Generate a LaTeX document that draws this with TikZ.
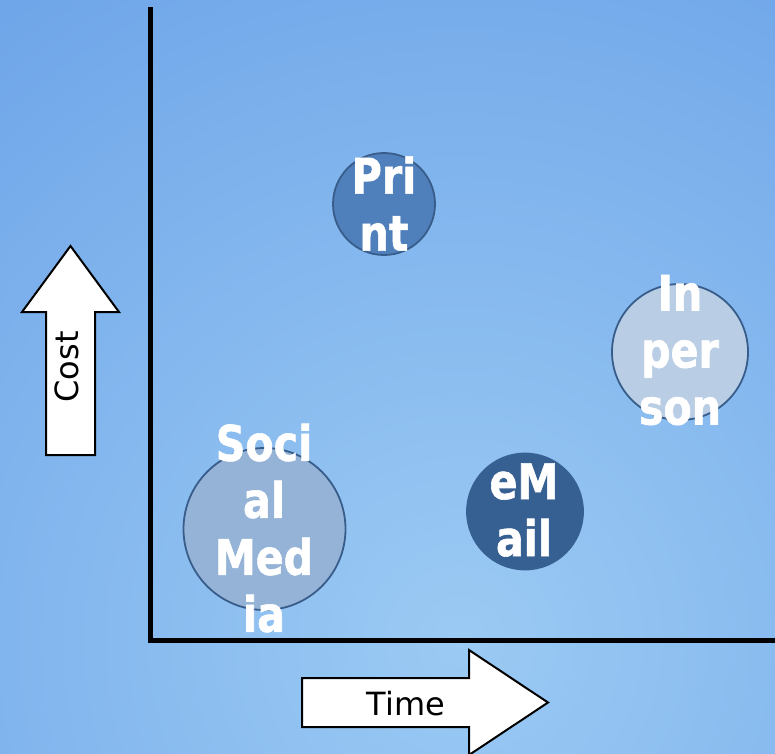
\documentclass[tikz,border=0pt]{standalone}
\usepackage{fontspec}
\setmainfont{DejaVu Sans}
\newfontfamily\bubblefont[FakeStretch=0.84, FakeBold=1.2]{DejaVu Sans}

\definecolor{bgin}{HTML}{9BCAF3}
\definecolor{bgout}{HTML}{6AA2E8}
\definecolor{bubbleedge}{HTML}{385D8A}
\definecolor{printfill}{HTML}{4F80BC}
\definecolor{mailfill}{HTML}{376092}
\definecolor{personfill}{HTML}{B9CDE5}
\definecolor{socialfill}{HTML}{95B3D7}

\begin{document}
\begin{tikzpicture}[x=1pt, y=-1pt,
  bubble/.style={circle, draw=bubbleedge, line width=1.8pt, inner sep=0pt},
  bubbletext/.style={text=white, align=center, inner sep=0pt,
    font=\bubblefont\bfseries\fontsize{49}{57}\selectfont},
  blockarrow/.style={draw=black, fill=white, line width=2pt, line join=miter},
  axisline/.style={draw=black, line width=5pt, line join=miter},
  axislabel/.style={inner sep=0pt, font=\fontsize{32}{38}\selectfont}]

% canvas and background glow
\useasboundingbox (0,0) rectangle (775,753);
\clip (0,0) rectangle (775,753);
\fill[bgout] (0,0) rectangle (775,753);
\shade[inner color=bgin, outer color=bgout] (460,640) circle (860);

% axes
\coordinate (ytop) at (150,7);
\coordinate (origin) at (150,640);
\coordinate (xend) at (775,640);
\draw[axisline] (ytop) -- (origin) -- (xend);

% cost arrow (pointing up)
\draw[blockarrow] (46,455) -- (46,312) -- (22,312) -- (70.5,246) -- (119,312)
  -- (95,312) -- (95,455) -- cycle;
\node[axislabel, rotate=90] (cost) at (66.5,367) {Cost};

% time arrow (pointing right)
\draw[blockarrow] (302,678) -- (469,678) -- (469,650) -- (548,702.5) -- (469,755)
  -- (469,727) -- (302,727) -- cycle;
\node[axislabel] (time) at (406,703.5) {Time};

% channels
\node[bubble, fill=printfill, minimum size=102pt] (print) at (384,204) {};
\node[bubbletext] (printlabel) at (384,203.5) {Pri\\nt};

\node[bubble, fill=personfill, minimum size=136pt] (person) at (680,352) {};
\node[bubbletext] (personlabel) at (680,350) {In\\per\\son};

\node[bubble, fill=socialfill, minimum size=162pt] (social) at (264.5,529) {};
\node[bubbletext] (sociallabel) at (264,528) {Soci\\al\\Med\\ia};

\node[bubble, draw=mailfill, fill=mailfill, minimum size=116pt] (email) at (525,511.5) {};
\node[bubbletext] (emaillabel) at (524,510) {eM\\ail};
\end{tikzpicture}
\end{document}
